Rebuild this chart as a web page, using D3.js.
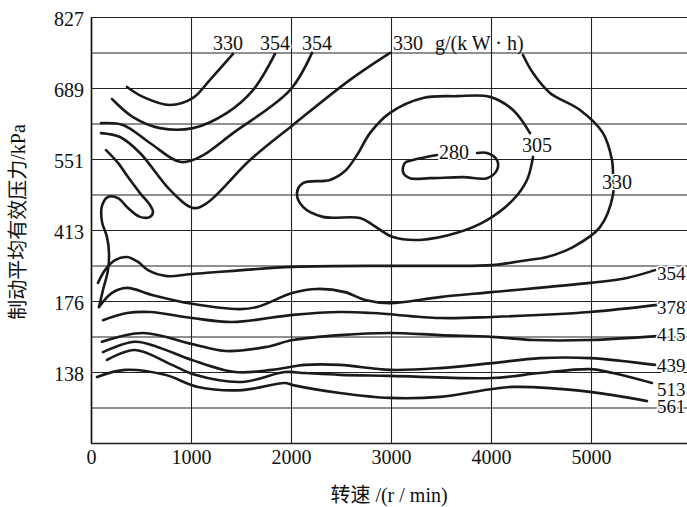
<!DOCTYPE html>
<html>
<head>
<meta charset="utf-8">
<script src="https://cdn.jsdelivr.net/npm/d3@7"></script>
<style>
  body { margin: 0; background: #fff; }
  svg { display: block; font-family: "Liberation Serif", "Noto Sans CJK SC", serif; }
</style>
</head>
<body>
<svg width="687" height="507"></svg>
<script>
// speed ticks (r/min) and pressure rows (grid index from bottom, labelled rows only)
var rpmTicks = [0, 1000, 2000, 3000, 4000, 5000]
var gridRows = [0, 1, 2, 3, 4, 5, 6, 7, 8, 9, 10, 11, 12]
var pTickRows = [2, 4, 6, 8, 10, 12]
var pTickLabels = ['138', '176', '413', '551', '689', '827']

// contour lines: [rpm, grid row]
var c330a = [[360, 10.03], [520, 9.75], [790, 9.52], [1020, 9.72], [1190, 10.23], [1420, 10.96]]
var c354a = [[210, 9.69], [420, 9.18], [690, 8.87], [1020, 8.87], [1360, 9.30], [1620, 9.94], [1840, 10.96]]
var c354b = [[100, 9.01], [320, 8.96], [590, 8.45], [890, 7.92], [1090, 8.06], [1420, 8.73], [1990, 9.94], [2210, 10.99]]
var c330b = [[100, 8.73], [290, 8.62], [490, 8.17], [790, 7.13], [1020, 6.62], [1160, 6.76], [1590, 7.97], [2020, 8.96], [2590, 10.23], [2990, 10.99]]
var c354loop = [[150, 8.25], [270, 7.89], [370, 7.49], [490, 7.04], [590, 6.70], [620, 6.51], [590, 6.37], [490, 6.37],
  [370, 6.62], [270, 6.90], [170, 6.93], [110, 6.68], [110, 6.23], [160, 5.80], [180, 5.35], [170, 4.87], [120, 4.31], [80, 3.83]]
var c354 = [[80, 3.83], [210, 4.23], [360, 4.37], [610, 4.17], [1010, 3.92], [1490, 3.77], [1660, 3.83], [2020, 4.23],
  [2260, 4.34], [2540, 4.25], [2740, 4.03], [2990, 3.94], [3490, 4.11], [4010, 4.25], [4990, 4.51], [5360, 4.65], [5640, 4.87]]
var c330 = [[4320, 10.93], [4420, 10.42], [4590, 9.86], [4890, 9.38], [5120, 8.73], [5210, 7.97], [5220, 7.63],
  [5220, 6.99], [5090, 6.08], [4820, 5.52], [4560, 5.24], [4360, 5.15], [4010, 5.01], [3490, 4.99], [2990, 4.99],
  [2020, 4.96], [1010, 4.76], [760, 4.70], [570, 4.87], [470, 5.10], [360, 5.24], [240, 5.15], [140, 4.87], [70, 4.51]]
var c305 = [[4420, 8.06], [4360, 7.41], [4220, 6.85], [3960, 6.28], [3660, 5.92], [3290, 5.72], [3020, 5.80], [2820, 6.14],
  [2690, 6.34], [2320, 6.37], [2120, 6.65], [2060, 7.04], [2120, 7.32], [2390, 7.41], [2540, 7.66], [2660, 8.11],
  [2790, 8.73], [2990, 9.30], [3320, 9.72], [3660, 9.77], [3990, 9.75], [4220, 9.38], [4390, 8.73]]
var c280 = [[3460, 8.11], [3220, 7.97], [3140, 7.89], [3120, 7.63], [3190, 7.46], [3390, 7.46], [3720, 7.49],
  [3960, 7.46], [4060, 7.69], [4060, 7.97], [3960, 8.17], [3860, 8.17]]
var c378 = [[120, 3.46], [360, 3.66], [590, 3.69], [1010, 3.52], [1420, 3.41], [2020, 3.61], [2490, 3.69], [2820, 3.66],
  [3490, 3.52], [4010, 3.55], [4990, 3.69], [5660, 3.89]]
var c415 = [[110, 2.85], [520, 3.10], [1010, 2.79], [1350, 2.59], [1740, 2.70], [2020, 2.90], [2490, 3.04], [2990, 3.10],
  [3490, 3.04], [4010, 2.99], [4420, 2.90], [4990, 2.90], [5660, 3.01]]
var c439 = [[120, 2.56], [440, 2.85], [670, 2.70], [1010, 2.34], [1440, 2.00], [1810, 2.06], [2140, 2.20], [2490, 2.20],
  [2990, 2.06], [3490, 2.11], [4010, 2.25], [4490, 2.39], [4990, 2.39], [5640, 2.20]]
var c513 = [[160, 2.34], [440, 2.62], [810, 2.20], [1040, 1.92], [1510, 1.72], [1940, 2.00], [2140, 1.97], [2490, 1.92],
  [2990, 1.89], [4010, 1.83], [4490, 1.97], [4990, 2.08], [5220, 1.97], [5610, 1.69]]
var c561 = [[60, 1.86], [340, 2.06], [740, 1.92], [1070, 1.58], [1510, 1.49], [1940, 1.69], [2020, 1.63], [2490, 1.41],
  [2990, 1.27], [3490, 1.30], [4010, 1.52], [4220, 1.58], [4990, 1.44], [5560, 1.18]]

var contours = [c330a, c354a, c354b, c330b, c354loop, c354, c330, c305, c280, c378, c415, c439, c513, c561]

// contour value labels: [text, rpm, grid row, anchor]
var labels = [
  ['330', 1370, 11.27, 'middle'], ['354', 1840, 11.27, 'middle'], ['354', 2260, 11.27, 'middle'],
  ['330', 3170, 11.27, 'middle'], ['305', 4460, 8.39, 'middle'], ['280', 3630, 8.20, 'middle'],
  ['330', 5260, 7.35, 'middle'],
  ['354', 5660, 4.79, 'start'], ['378', 5660, 3.83, 'start'], ['415', 5660, 3.07, 'start'],
  ['439', 5660, 2.20, 'start'], ['513', 5660, 1.52, 'start'], ['561', 5660, 1.04, 'start']
]
var unitLabel = ['g/(k W · h)', 3440, 11.27]

var svg = d3.select('svg')

var x = d3.scaleLinear().domain([0, 5960]).range([91, 687])
var y = d3.scaleLinear().domain([0, 12]).range([443, 17])

// vertical grid + bottom axis
var xAxis = svg.append('g')
  .attr('transform', 'translate(0,443)')
  .call(d3.axisBottom(x)
    .tickValues(rpmTicks)
    .tickSizeInner(-426)
    .tickSizeOuter(0)
    .tickPadding(7)
    .tickFormat(d3.format('d')))
xAxis.selectAll('.tick line').attr('stroke', '#222').attr('stroke-width', 1.1)
xAxis.select('.domain').attr('stroke', '#111').attr('stroke-width', 1.6)
xAxis.selectAll('text').attr('font-size', 20).attr('fill', '#111')
  .attr('font-family', 'Liberation Serif')

// horizontal grid + left axis
var yAxis = svg.append('g')
  .attr('transform', 'translate(91,0)')
  .call(d3.axisLeft(y)
    .tickValues(gridRows)
    .tickSizeInner(-596)
    .tickSizeOuter(0)
    .tickPadding(7)
    .tickFormat(function (d) {
      var i = pTickRows.indexOf(d)
      return i < 0 ? '' : pTickLabels[i]
    }))
yAxis.selectAll('.tick line').attr('stroke', '#222').attr('stroke-width', 1.1)
yAxis.select('.domain').attr('stroke', '#111').attr('stroke-width', 1.6)
yAxis.selectAll('text').attr('font-size', 20).attr('fill', '#111')
  .attr('font-family', 'Liberation Serif')
  .attr('dy', '0.42em')

var line = d3.line()
  .x(function (d) { return x(d[0]) })
  .y(function (d) { return y(d[1]) })
  .curve(d3.curveCatmullRom.alpha(0.5))

svg.append('g').selectAll('path')
  .data(contours)
  .enter()
  .append('path')
  .attr('d', line)
  .style('fill', 'none')
  .style('stroke', '#1a1a1a')
  .style('stroke-width', 2.6)
  .style('stroke-linecap', 'round')

svg.append('g').selectAll('text')
  .data(labels)
  .enter()
  .append('text')
  .attr('x', function (d) { return x(d[1]) })
  .attr('y', function (d) { return y(d[2]) })
  .attr('dy', '0.35em')
  .attr('text-anchor', function (d) { return d[3] })
  .attr('font-size', function (d) { return d[3] === 'start' ? 19 : 20 })
  .attr('fill', '#111')
  .attr('stroke', '#fff')
  .attr('stroke-width', 3)
  .attr('paint-order', 'stroke')
  .text(function (d) { return d[0] })

svg.append('text')
  .attr('x', x(unitLabel[1]))
  .attr('y', y(unitLabel[2]))
  .attr('dy', '0.35em')
  .attr('font-size', 20)
  .attr('fill', '#111')
  .text(unitLabel[0])

// axis titles
svg.append('text')
  .attr('transform', 'translate(25,222) rotate(-90)')
  .attr('text-anchor', 'middle')
  .attr('font-size', 20)
  .attr('fill', '#111')
  .text('制动平均有效压力/kPa')

svg.append('text')
  .attr('x', 389)
  .attr('y', 502)
  .attr('text-anchor', 'middle')
  .attr('font-size', 20)
  .attr('fill', '#111')
  .text('转速 /(r / min)')
</script>
</body>
</html>
